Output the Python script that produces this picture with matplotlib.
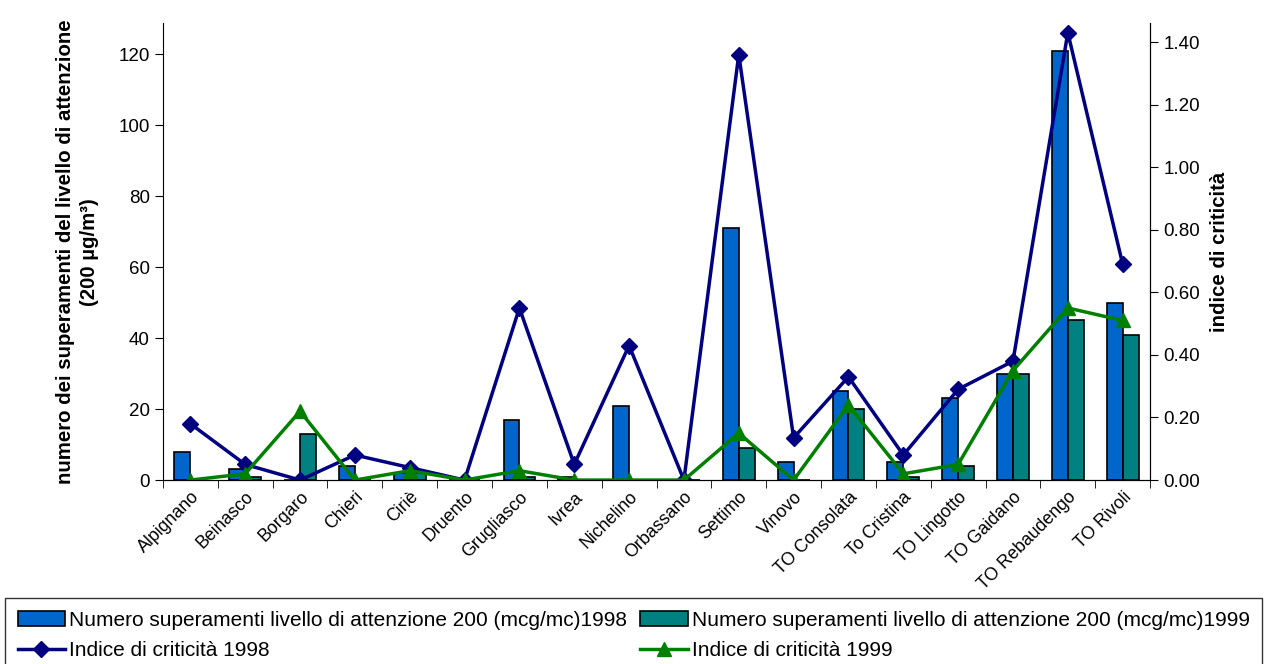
import matplotlib
matplotlib.use("Agg")
import matplotlib.pyplot as plt
import numpy as np

plt.rcParams["font.family"] = ["Liberation Sans", "DejaVu Sans"]

stations = ["Alpignano", "Beinasco", "Borgaro", "Chieri", "Ciriè", "Druento",
            "Grugliasco", "Ivrea", "Nichelino", "Orbassano", "Settimo", "Vinovo",
            "TO Consolata", "To Cristina", "TO Lingotto", "TO Gaidano",
            "TO Rebaudengo", "TO Rivoli"]
exceed_1998 = [8, 3, 0, 4, 2, 0, 17, 1, 21, 0, 71, 5, 25, 5, 23, 30, 121, 50]
exceed_1999 = [0, 1, 13, 0, 2, 0, 1, 0, 0, 0, 9, 0, 20, 1, 4, 30, 45, 41]
index_1998 = [0.18, 0.05, 0.0, 0.08, 0.04, 0.0, 0.55, 0.05, 0.43, 0.0, 1.36,
              0.135, 0.33, 0.08, 0.29, 0.38, 1.43, 0.69]
index_1999 = [0.0, 0.02, 0.22, 0.0, 0.03, 0.0, 0.03, 0.0, 0.0, 0.0, 0.15,
              0.0, 0.24, 0.02, 0.05, 0.35, 0.55, 0.51]

fig = plt.figure(figsize=(12.68, 6.64), dpi=100)
ax = fig.add_axes([0.1285, 0.277, 0.7785, 0.688])
ax2 = ax.twinx()

x = np.arange(len(stations))
w = 0.29
b1 = ax.bar(x - w / 2, exceed_1998, w, color="#0066CC", edgecolor="black", linewidth=1.2,
            label="Numero superamenti livello di attenzione 200 (mcg/mc)1998")
b2 = ax.bar(x + w / 2, exceed_1999, w, color="#008080", edgecolor="black", linewidth=1.2,
            label="Numero superamenti livello di attenzione 200 (mcg/mc)1999")

l1, = ax2.plot(x, index_1998, color="#000080", linewidth=2.5, marker="D", markersize=8,
               label="Indice di criticità 1998")
l2, = ax2.plot(x, index_1999, color="#008000", linewidth=2.5, marker="^", markersize=10,
               label="Indice di criticità 1999")

ax.set_xlim(-0.5, len(stations) - 0.5)
ax.set_ylim(0, 128.7)
ax2.set_ylim(0, 1.46)
ax.set_yticks(np.arange(0, 121, 20))
ax2.set_yticks(np.arange(0, 1.41, 0.2))
ax2.set_yticklabels([f"{v:.2f}" for v in np.arange(0, 1.41, 0.2)])

ax.set_xticks(x)
ax.set_xticklabels(stations, rotation=45, ha="right", rotation_mode="anchor", fontsize=12.8)
ax.set_xticks(np.arange(-0.5, len(stations), 1), minor=True)
ax.tick_params(axis="x", which="major", length=0, pad=6)
ax.tick_params(axis="x", which="minor", length=6, direction="out")
ax.tick_params(axis="y", labelsize=13.5, length=6, direction="out")
ax2.tick_params(axis="y", labelsize=13.5, length=6, direction="out")

for a in (ax, ax2):
    a.spines["top"].set_visible(False)
ax2.spines["left"].set_visible(False)

ax.set_ylabel("numero dei superamenti del livello di attenzione\n(200 µg/m³)",
              fontsize=14.7, fontweight="bold", labelpad=14, linespacing=1.35)
ax2.set_ylabel("indice di criticità", fontsize=14.7, fontweight="bold", labelpad=7)

fig.legend([b1, l1, b2, l2], [b1.get_label(), l1.get_label(), b2.get_label(), l2.get_label()],
           loc="upper left", bbox_to_anchor=(5 / 1268, 1 - 598 / 664, 1257 / 1268, 0),
           mode="expand", ncol=2, fontsize=15, frameon=True, fancybox=False,
           edgecolor="black", borderpad=0.6, handlelength=2.3, handletextpad=0.15,
           labelspacing=0.55, columnspacing=0.5, borderaxespad=0)

fig.savefig("out.png", dpi=100)
